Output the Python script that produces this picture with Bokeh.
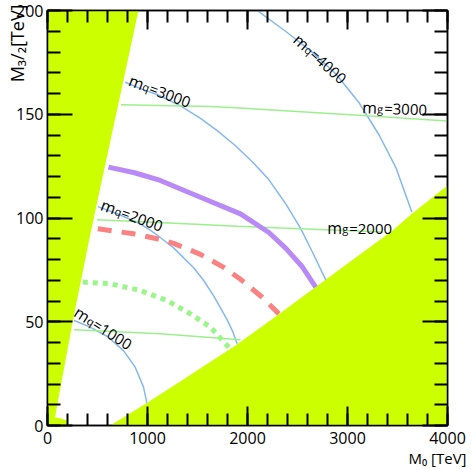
import numpy as np
from bokeh.plotting import figure
from bokeh.models import (Range1d, SingleIntervalTicker, LinearAxis, Label, Title,
                          CustomJSTickFormatter)
from bokeh.embed import file_html
from bokeh.resources import INLINE

# ---- excluded regions (M0 [TeV], M3/2 [TeV]) ----
left_x = [0, 0, 910, 436, 252, 75, 125, 190, 220]
left_y = [0, 200, 200, 94, 50, 4, 3.5, 2.5, 0]
right_x = [627, 994, 1400, 1880, 2314, 2682, 3451, 3644, 4000, 4000]
right_y = [0, 10.9, 23.5, 38.5, 53.6, 66.7, 94, 102, 115.7, 0]

# ---- squark mass contours ----
mq1000_x = [266, 426, 598, 760, 877, 960, 994]
mq1000_y = [50.6, 47.4, 42.9, 36.1, 28.1, 18.5, 10.9]
mq2000_x = [503, 710, 910, 1028, 1128, 1261, 1462, 1560, 1662, 1796, 1850, 1897]
mq2000_y = [105.5, 101.8, 97.6, 94.2, 90.6, 85.6, 76.0, 70.0, 62.5, 51.0, 45.5, 39.4]
mq3000_x = [777, 950, 1095, 1330, 1530, 1700, 1880, 2050, 2213, 2380, 2531, 2650, 2782]
mq3000_y = [165.4, 162.0, 159.5, 154.0, 148.0, 142.0, 134.8, 127.0, 118.5, 107.0, 95.0, 83.5, 70.2]
mq4000_x = [2097, 2381, 2649, 2882, 3116, 3316, 3484, 3644]
mq4000_y = [200, 190.0, 179.8, 169.5, 155.5, 140.0, 124.3, 102.8]

# ---- gluino mass contours ----
mg1000_x = [266, 1128, 1930]
mg1000_y = [46.1, 44.2, 41.3]
mg2000_x = [493, 1378, 1900, 3350]
mg2000_y = [99.1, 97.2, 96.0, 93.2]
mg3000_x = [734, 1630, 1880, 3150, 4000]
mg3000_y = [154.6, 153.7, 153.1, 149.4, 146.7]

# ---- reach curves ----
purple_x = [610, 870, 1128, 1529, 1930, 2214, 2381, 2548, 2682]
purple_y = [124.5, 121.8, 118.1, 110.0, 102.0, 93.0, 85.5, 76.5, 66.7]
red_x = [503, 860, 1095, 1261, 1529, 1762, 1930, 2147, 2314]
red_y = [94.8, 92.4, 90.0, 87.8, 82.5, 76.2, 70.5, 61.8, 53.8]
dot_x = [353, 627, 927, 1195, 1429, 1629, 1813]
dot_y = [69.1, 68.3, 65.1, 60.2, 53.8, 47.4, 37.7]

x_ticks_interval = 1000
y_ticks_interval = 50

FONT = "Open Sans"
FILL = "#CCFF00"
BLUE = "#82B9F2"
LGREEN = "#9CF08C"

p = figure(width=475, height=470, x_range=Range1d(0, 4000), y_range=Range1d(0, 200),
           min_border_left=47, min_border_right=28, min_border_top=10,
           min_border_bottom=45, output_backend="svg", toolbar_location=None)
p.grid.visible = False
p.background_fill_color = "white"
p.border_fill_color = "white"
p.outline_line_color = "black"
p.outline_line_width = 1.5

# pixels per data unit inside the frame
XPX = 400 / 4000
YPX = 415 / 200

p.patch(left_x, left_y, fill_color=FILL, line_color=None)
p.patch(right_x, right_y, fill_color=FILL, line_color=None)

for xs, ys in [(mq1000_x, mq1000_y), (mq2000_x, mq2000_y),
               (mq3000_x, mq3000_y), (mq4000_x, mq4000_y)]:
    p.line(xs, ys, line_color=BLUE, line_width=1.5)
for xs, ys in [(mg1000_x, mg1000_y), (mg2000_x, mg2000_y), (mg3000_x, mg3000_y)]:
    p.line(xs, ys, line_color=LGREEN, line_width=1.5)

p.line(purple_x, purple_y, line_color="#B98AF7", line_width=5)
p.line(red_x, red_y, line_color="#FA8282", line_width=5, line_dash="14 10")
p.line(dot_x, dot_y, line_color="#99F788", line_width=5, line_dash="5 5")


def ticker(interval):
    return SingleIntervalTicker(interval=interval, num_minor_ticks=5)


def style_axis(ax, major, minor):
    ax.axis_line_color = "black"
    ax.axis_line_width = 1.5
    ax.major_tick_in = major
    ax.major_tick_out = 0
    ax.minor_tick_in = minor
    ax.minor_tick_out = 0
    ax.major_tick_line_width = 2
    ax.minor_tick_line_width = 2
    ax.major_tick_line_color = "black"
    ax.minor_tick_line_color = "black"
    ax.major_label_text_font = FONT
    ax.major_label_text_font_size = "16px"
    ax.major_label_text_color = "black"


p.xaxis.ticker = ticker(x_ticks_interval)
p.yaxis.ticker = ticker(y_ticks_interval)
style_axis(p.xaxis[0], 19, 12)
style_axis(p.yaxis[0], 25, 13)
p.xaxis.major_label_standoff = 6
p.yaxis.major_label_standoff = 4

blank = CustomJSTickFormatter(code="return ''")
top = LinearAxis(ticker=ticker(x_ticks_interval), formatter=blank)
right = LinearAxis(ticker=ticker(y_ticks_interval), formatter=blank)
style_axis(top, 19, 12)
style_axis(right, 25, 13)
p.add_layout(top, "above")
p.add_layout(right, "right")

# axis titles, pushed to the far end of each axis
p.add_layout(Title(text="M\u2080 [TeV]", align="right", offset=-19, standoff=-2,
                   text_font=FONT, text_font_size="15px", text_font_style="normal",
                   text_color="black"), "below")
p.add_layout(Title(text="M\u2083/\u2082[TeV]", align="right", offset=-6, standoff=-31,
                   text_font=FONT, text_font_size="18px", text_font_style="normal",
                   text_color="black"), "left")


def put_text(x0, y0, angle_deg, pieces):
    """Place text pieces along a rotated baseline starting at (x0, y0).
    pieces: (text, advance_px, size_px, drop_px)"""
    th = np.radians(angle_deg)
    for text, d, size, drop in pieces:
        dx = (d * np.cos(th) + drop * np.sin(th)) / XPX
        dy = (d * np.sin(th) - drop * np.cos(th)) / YPX
        p.add_layout(Label(x=x0 + dx, y=y0 + dy, text=text, angle=th,
                           text_font=FONT, text_font_size=f"{size}px",
                           text_color="black", text_align="left",
                           text_baseline="alphabetic"))


def mass_label(x0, y0, angle_deg, sub, value):
    put_text(x0, y0, angle_deg, [("m", 0, 16, 0), (sub, 15, 11, 1),
                                 ("=" + value, 22, 15, 0)])


mass_label(285, 55.4, -32.6, "q", "1000")
mass_label(540, 106.7, -20, "q", "2000")
mass_label(820, 166.7, -20.7, "q", "3000")
mass_label(2486, 187.2, -42, "q", "4000")
mass_label(2797, 95.3, 0, "g", "2000")
mass_label(3147, 153.4, -2, "g", "3000")

open("out.html", "w").write(file_html(p, INLINE))
